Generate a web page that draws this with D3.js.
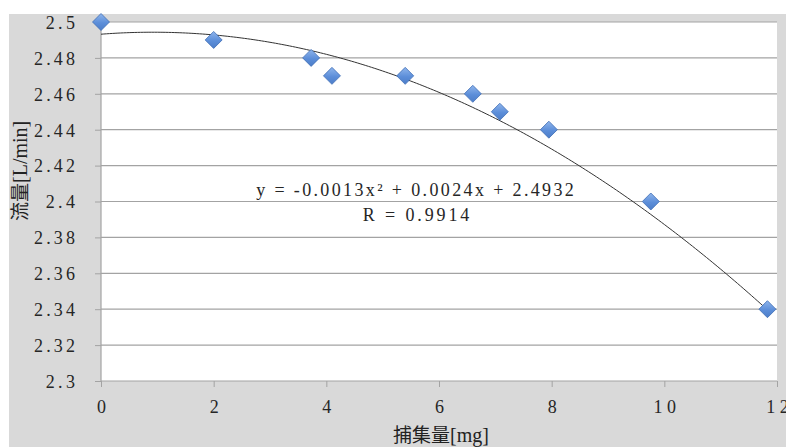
<!DOCTYPE html>
<html>
<head>
<meta charset="utf-8">
<script src="https://cdn.jsdelivr.net/npm/d3@7"></script>
</head>
<body style="margin:0;padding:0;background:#fff;">
<svg id="chart" width="786" height="447" style="display:block"></svg>
<script>
// Collected mass [mg] vs. flow rate [L/min]
const massMg = [0, 2, 3.73, 4.1, 5.4, 6.6, 7.08, 7.95, 9.76, 11.83];
const flowLmin = [2.50, 2.49, 2.48, 2.47, 2.47, 2.46, 2.45, 2.44, 2.40, 2.34];
const xTicks = [0, 2, 4, 6, 8, 10, 12];
const yTicks = [2.3, 2.32, 2.34, 2.36, 2.38, 2.4, 2.42, 2.44, 2.46, 2.48, 2.5];
// Polynomial trendline y = a x^2 + b x + c
const trendCoef = [-0.0013, 0.0024, 2.4932];
const trendLabel = ["y = -0.0013x² + 0.0024x + 2.4932", "R = 0.9914"];

const SERIF = "'Liberation Serif', 'DejaVu Serif', serif";
const CJK = "'Noto Sans CJK JP', 'Noto Sans CJK SC', sans-serif";

// serif numerals, spread out with extra spacing between glyphs
function numStyle(sel, spread) {
  sel.attr("font-family", SERIF).attr("font-size", 18).attr("fill", "#262626")
     .each(function () {
       const w = this.getComputedTextLength();
       if (this.textContent.length > 1) {
         this.setAttribute("textLength", (w * spread).toFixed(1));
         this.setAttribute("lengthAdjust", "spacing");
       }
     });
}

const svg = d3.select("#chart");
const W = 786, H = 447;
const plot = { left: 101, right: 777, top: 22, bottom: 381 };

// chart background panel
svg.append("rect").attr("x", 9).attr("y", 14).attr("width", W - 9).attr("height", H - 14).attr("fill", "#d9d9d9");
svg.append("rect").attr("x", plot.left).attr("y", plot.top)
  .attr("width", plot.right - plot.left).attr("height", plot.bottom - plot.top).attr("fill", "#fff");

const x = d3.scaleLinear().domain([0, 12]).range([plot.left, plot.right]);
const y = d3.scaleLinear().domain([2.3, 2.5]).range([plot.bottom, plot.top]);

// horizontal gridlines
svg.append("g").selectAll("line").data(yTicks.slice(1)).join("line")
  .attr("x1", plot.left).attr("x2", plot.right)
  .attr("y1", d => y(d)).attr("y2", d => y(d))
  .attr("stroke", "#a3a3a3").attr("stroke-width", 1.2);

// y axis
const yAxis = svg.append("g").attr("transform", `translate(${plot.left},0)`)
  .call(d3.axisLeft(y).tickValues(yTicks).tickSize(6).tickPadding(20).tickFormat(d => String(+d.toFixed(2))));
yAxis.select(".domain").attr("stroke", "#a3a3a3").attr("stroke-width", 1.2).attr("d", `M0,${plot.top}V${plot.bottom}`);
yAxis.selectAll(".tick line").attr("stroke", "#a3a3a3");
yAxis.selectAll(".tick text").attr("dy", "0.35em").call(numStyle, 1.3);

// x axis
const xAxis = svg.append("g").attr("transform", `translate(0,${plot.bottom})`)
  .call(d3.axisBottom(x).tickValues(xTicks).tickSize(6).tickPadding(13).tickFormat(d3.format("d")));
xAxis.select(".domain").attr("stroke", "#a3a3a3").attr("stroke-width", 1.2).attr("d", `M${plot.left},0H${plot.right}`);
xAxis.selectAll(".tick line").attr("stroke", "#a3a3a3");
xAxis.selectAll(".tick text").attr("dy", "0.71em").call(numStyle, 1.25);

// trendline
const xs = d3.range(0, 11.83 + 1e-9, 0.05);
const trend = d3.line().x(d => x(d)).y(d => y(trendCoef[0] * d * d + trendCoef[1] * d + trendCoef[2]));
svg.append("path").datum(xs).attr("d", trend).attr("fill", "none").attr("stroke", "#333").attr("stroke-width", 1);

// marker gradient
const defs = svg.append("defs");
const grad = defs.append("linearGradient").attr("id", "diam").attr("x1", 0).attr("y1", 0).attr("x2", 0).attr("y2", 1);
grad.append("stop").attr("offset", "0%").attr("stop-color", "#8fb5ec");
grad.append("stop").attr("offset", "55%").attr("stop-color", "#5c8ed9");
grad.append("stop").attr("offset", "100%").attr("stop-color", "#4c7dc8");

const pts = massMg.map((m, i) => [m, flowLmin[i]]);
const r = 8.5;
svg.append("g").selectAll("path").data(pts).join("path")
  .attr("d", d => `M${x(d[0])},${y(d[1]) - r}L${x(d[0]) + r},${y(d[1])}L${x(d[0])},${y(d[1]) + r}L${x(d[0]) - r},${y(d[1])}Z`)
  .attr("fill", "url(#diam)").attr("stroke", "#3f6db5").attr("stroke-width", 0.8);

// equation label
svg.append("text").attr("x", 415).attr("y", 196).attr("text-anchor", "middle")
  .text(trendLabel[0]).call(numStyle, 1.3);
svg.append("text").attr("x", 416).attr("y", 221).attr("text-anchor", "middle")
  .text(trendLabel[1]).call(numStyle, 1.32);

// axis titles: CJK part plus serif unit
const yTitle = svg.append("text").attr("transform", "translate(27,221) rotate(-90)").attr("fill", "#222");
yTitle.append("tspan").attr("font-family", CJK).attr("font-size", 19).text("流量");
yTitle.append("tspan").attr("font-family", SERIF).attr("font-size", 20).text("[L/min]");

const xTitle = svg.append("text").attr("x", 441).attr("y", 442).attr("text-anchor", "middle").attr("fill", "#222");
xTitle.append("tspan").attr("font-family", CJK).attr("font-size", 19).text("捕集量");
xTitle.append("tspan").attr("font-family", SERIF).attr("font-size", 20).text("[mg]");
</script>
</body>
</html>
